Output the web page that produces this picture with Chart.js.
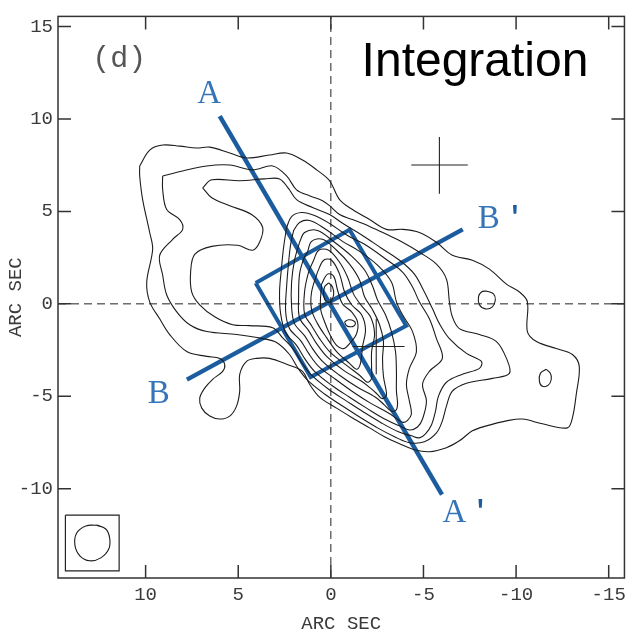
<!DOCTYPE html>
<html>
<head>
<meta charset="utf-8">
<script src="https://cdn.jsdelivr.net/npm/chart.js@4.4.1/dist/chart.umd.min.js"></script>
<style>
  html, body { margin: 0; padding: 0; background: #fff; }
  #wrap { width: 632px; height: 638px; }
</style>
</head>
<body>
<div id="wrap"><canvas id="map"></canvas></div>
<script>
// axis ranges and ticks, arc seconds (RA runs right to left)
const xRange = [-15.85, 14.73];
const yRange = [-14.83, 15.55];
const xTicks = [10, 5, 0, -5, -10, -15];
const yTicks = [15, 10, 5, 0, -5, -10];

// integrated intensity contours, outermost level first, [x, y] round each loop
const contour1 = [[10.32,7.46],[9.78,8.32],[9.08,8.59],[8.16,8.53],[7.24,8.43],[6.54,8.48],[5.46,8.16],[4.55,7.89],[3.31,8.05],[2.39,8.16],[1.53,7.78],[0.77,7.25],[0.07,6.66],[-0.47,5.64],[-1.17,5.10],[-2.09,4.56],[-3.00,4.03],[-3.87,4.03],[-4.78,3.86],[-5.70,3.33],[-6.56,2.63],[-7.64,2.36],[-8.56,1.88],[-9.48,1.07],[-10.18,0.64],[-10.61,0.11],[-10.61,-1.50],[-11.10,-2.04],[-12.17,-2.42],[-13.04,-2.74],[-13.41,-3.38],[-13.25,-4.88],[-13.04,-6.17],[-12.77,-6.71],[-11.42,-6.49],[-10.34,-6.23],[-9.48,-6.33],[-8.40,-6.60],[-7.64,-6.87],[-6.94,-7.41],[-6.24,-7.78],[-5.32,-8.00],[-4.51,-7.89],[-3.71,-7.57],[-2.90,-7.19],[-2.09,-6.71],[-1.17,-6.17],[-0.31,-5.64],[0.61,-5.05],[1.15,-4.35],[1.53,-3.65],[2.39,-3.27],[3.31,-2.95],[4.01,-2.95],[4.55,-3.11],[4.92,-3.81],[4.92,-4.72],[5.09,-5.53],[5.46,-6.07],[6.00,-6.23],[6.54,-6.07],[6.97,-5.64],[7.08,-5.10],[6.81,-4.56],[6.38,-4.08],[5.84,-3.65],[5.73,-3.27],[6.00,-2.95],[6.70,-2.84],[7.78,-2.58],[8.70,-1.66],[9.24,-0.81],[9.78,0.11],[9.94,1.18],[9.62,2.95],[9.78,3.86],[10.16,5.64],[10.32,6.92]];
const contour2 = [[9.08,6.92],[8.00,7.19],[6.70,7.46],[5.46,7.51],[4.22,7.25],[3.14,7.46],[2.39,6.92],[1.85,6.17],[1.15,5.85],[0.45,5.58],[0.07,5.31],[-0.47,4.83],[-1.17,4.56],[-2.09,4.19],[-3.00,3.76],[-3.87,3.33],[-4.78,2.79],[-5.70,2.15],[-6.24,1.34],[-6.40,0.11],[-6.56,-0.70],[-6.94,-1.34],[-8.02,-1.66],[-8.94,-2.04],[-9.48,-2.95],[-9.64,-3.76],[-8.72,-4.03],[-7.32,-4.29],[-6.56,-4.72],[-6.24,-5.53],[-6.02,-6.33],[-5.70,-6.98],[-5.05,-7.46],[-4.24,-7.51],[-3.44,-7.19],[-2.52,-6.71],[-1.55,-6.12],[-0.63,-5.53],[0.34,-4.88],[1.26,-4.13],[1.80,-3.44],[2.23,-2.74],[2.93,-2.09],[3.68,-1.88],[5.09,-1.66],[6.70,-1.50],[7.62,-1.13],[8.32,-0.43],[8.86,0.48],[9.08,1.56],[9.24,2.63],[8.54,3.49],[8.00,4.03],[8.16,4.56],[8.86,5.10],[9.08,6.17]];
const contour3 = [[6.92,6.28],[6.43,6.71],[4.92,6.66],[3.58,6.76],[2.77,6.76],[2.28,6.23],[1.85,5.64],[0.99,5.21],[0.07,4.83],[-0.74,4.29],[-1.71,3.70],[-2.73,3.01],[-3.71,2.36],[-4.51,1.61],[-5.05,0.64],[-5.49,-0.27],[-5.86,-1.07],[-6.40,-1.88],[-7.32,-2.68],[-8.13,-3.11],[-8.02,-3.49],[-7.10,-3.81],[-6.24,-4.24],[-5.81,-4.99],[-5.65,-5.80],[-5.43,-6.55],[-5.11,-7.03],[-4.78,-7.25],[-4.35,-7.14],[-3.65,-6.92],[-2.73,-6.44],[-1.76,-5.85],[-0.85,-5.26],[0.12,-4.62],[1.04,-3.86],[1.58,-3.17],[2.01,-2.47],[2.61,-1.83],[3.14,-1.29],[4.39,-1.18],[5.30,-1.13],[6.27,-0.70],[7.08,-0.05],[7.51,0.64],[7.57,1.72],[7.35,2.68],[6.43,3.11],[5.03,3.17],[4.22,2.90],[3.85,3.33],[3.68,4.13],[4.28,4.83],[5.46,5.31],[6.43,5.74]];
const contour4 = [[2.39,4.13],[2.12,4.72],[1.58,4.94],[0.88,4.78],[0.07,4.35],[-0.90,3.70],[-1.82,3.22],[-2.90,2.47],[-3.87,1.72],[-4.41,0.91],[-4.78,0.11],[-5.32,-0.81],[-5.70,-1.88],[-6.02,-2.95],[-5.32,-3.65],[-4.95,-4.35],[-5.16,-5.26],[-4.95,-6.23],[-4.68,-6.66],[-4.24,-6.82],[-3.71,-6.60],[-2.90,-6.23],[-1.93,-5.64],[-1.01,-5.05],[-0.04,-4.40],[0.88,-3.65],[1.42,-2.95],[1.85,-2.25],[2.44,-1.56],[2.71,-0.54],[2.77,0.64],[2.66,1.99],[2.55,3.06]];
const contour5 = [[2.01,3.97],[1.69,4.40],[1.15,4.51],[0.34,4.08],[-0.63,3.38],[-1.55,2.84],[-2.52,2.09],[-3.27,1.18],[-3.54,0.11],[-3.87,-0.59],[-4.41,-1.50],[-4.62,-2.58],[-4.24,-3.49],[-4.08,-4.35],[-4.24,-5.26],[-4.35,-5.96],[-4.14,-6.30],[-3.87,-6.40],[-3.11,-5.90],[-2.14,-5.37],[-1.22,-4.78],[-0.25,-4.08],[0.66,-3.38],[1.20,-2.68],[1.63,-1.99],[2.23,-1.34],[2.44,-0.43],[2.39,0.91],[2.28,2.25],[2.17,3.22]];
const contour6 = [[1.69,3.33],[1.42,3.86],[0.72,3.97],[-0.20,3.33],[-1.12,2.58],[-1.82,1.83],[-2.25,0.97],[-2.52,0.21],[-2.95,-0.59],[-3.27,-1.50],[-3.49,-2.58],[-3.54,-3.65],[-3.54,-4.72],[-3.60,-5.40],[-3.52,-5.75],[-3.25,-5.80],[-2.90,-5.48],[-2.41,-5.05],[-1.44,-4.51],[-0.47,-3.86],[0.45,-3.11],[0.99,-2.42],[1.42,-1.72],[1.96,-1.07],[2.12,-0.16],[2.12,1.18],[1.96,2.36]];
const contour7 = [[1.26,2.79],[1.04,3.38],[0.45,3.49],[-0.31,2.90],[-1.01,2.15],[-1.55,1.29],[-1.82,0.38],[-2.25,-0.32],[-2.63,-1.13],[-2.84,-2.04],[-2.79,-2.95],[-2.84,-3.92],[-3.00,-4.78],[-2.98,-5.00],[-2.75,-5.12],[-2.50,-4.88],[-2.14,-4.56],[-1.66,-4.19],[-0.69,-3.60],[0.23,-2.84],[0.77,-2.15],[1.20,-1.45],[1.69,-0.75],[1.74,0.38],[1.69,1.61],[1.47,2.42]];
const contour8 = [[0.93,2.36],[0.66,2.90],[0.12,2.90],[-0.47,2.25],[-0.90,1.45],[-1.22,0.54],[-1.66,-0.11],[-2.14,-0.70],[-2.36,-1.61],[-2.20,-2.58],[-2.20,-3.49],[-2.20,-4.03],[-1.98,-4.24],[-1.55,-3.86],[-0.85,-3.33],[0.07,-2.58],[0.61,-1.88],[1.04,-1.18],[1.42,-0.54],[1.42,0.64],[1.20,1.72]];
const contour9 = [[0.72,1.72],[0.39,2.36],[-0.04,2.36],[-0.47,1.61],[-0.74,0.64],[-1.12,-0.05],[-1.66,-0.59],[-1.87,-1.40],[-1.71,-2.31],[-1.60,-3.22],[-1.39,-3.54],[-1.01,-3.22],[-0.31,-2.58],[0.23,-1.83],[0.72,-1.07],[1.04,-0.32],[1.04,0.64]];
const contour10 = [[0.50,1.07],[0.18,1.61],[-0.15,1.50],[-0.36,0.75],[-0.63,0.00],[-1.12,-0.43],[-1.44,-0.97],[-1.39,-1.61],[-1.06,-2.09],[-0.69,-2.42],[-0.31,-2.25],[0.02,-1.72],[0.34,-0.97],[0.56,-0.21]];
// small closed peaks and isolated spots
const peakNorth = [[0.12,1.13],[-0.09,0.91],[-0.15,0.48],[0.02,0.11],[0.23,0.11],[0.39,0.43],[0.34,0.91]];
const peakSouth = [[-0.74,-0.97],[-0.95,-0.86],[-1.22,-0.91],[-1.33,-1.07],[-1.17,-1.23],[-0.85,-1.18]];
const spotEast = [[-8.40,0.70],[-8.78,0.54],[-8.88,0.21],[-8.72,-0.16],[-8.34,-0.27],[-8.02,-0.05],[-7.97,0.38],[-8.13,0.64]];
const spotFar = [[-11.63,-3.54],[-11.85,-3.76],[-11.90,-4.08],[-11.74,-4.40],[-11.42,-4.46],[-11.26,-4.19],[-11.31,-3.76]];

// beam in the corner
const beamBox = [[14.33,-11.43],[11.43,-11.43],[11.43,-14.44],[14.33,-14.44]];
const beamShape = [[12.64,-11.97],[12.15,-12.18],[11.94,-12.67],[11.99,-13.26],[12.42,-13.74],[13.02,-13.90],[13.55,-13.63],[13.82,-13.04],[13.72,-12.40],[13.23,-12.02]];

// position crosses
const crossNorthH = [[-4.34,7.51],[-7.39,7.51]];
const crossNorthV = [[-5.86,9.02],[-5.86,5.96]];
const crossSouthH = [[-1.17,-2.31],[-3.98,-2.31]];
const crossSouthV = [[-2.45,-0.81],[-2.45,-3.81]];

// cut lines A-A', B-B' and the integration box
const cutA = [[6.0,10.15],[-6.0,-10.32]];
const cutB = [[7.77,-4.1],[-7.12,4.03]];
const cutBox = [[4.06,1.13],[-1.01,4.01],[-4.07,-1.18],[1.09,-3.96]];

// cut labels
const tagText = ['A', "A'", 'B', "B'"];
const tagX = [6.57, -6.67, 9.29, -8.53];
const tagY = [11.32, -11.35, -4.91, 4.56];

const panelTag = '(d)';
const panelTagPos = [11.42, 13.26];
const mapTitle = 'Integration';
const mapTitlePos = [-1.66, 12.35];

const toPoints = (pairs, close) => {
  const pts = pairs.map(([x, y]) => ({ x, y }));
  if (close) pts.push({ ...pts[0] });
  return pts;
};

const contourLevels = [contour1, contour2, contour3, contour4, contour5, contour6, contour7,
  contour8, contour9, contour10, peakNorth, peakSouth, spotEast, spotFar];

const datasets = [];
contourLevels.forEach(pairs => {
  datasets.push({ data: toPoints(pairs, true), borderColor: '#1c1c1c', borderWidth: 1.1, tension: 0.35 });
});
datasets.push({ data: toPoints(beamShape, true), borderColor: '#1c1c1c', borderWidth: 1.1, tension: 0.45 });
datasets.push({ data: toPoints(beamBox, true), borderColor: '#222', borderWidth: 1.2, tension: 0 });
[crossNorthH, crossNorthV, crossSouthH, crossSouthV].forEach(pairs => {
  datasets.push({ data: toPoints(pairs, false), borderColor: '#222', borderWidth: 1.1, tension: 0 });
});
// dashed reference axes through the centre
datasets.push({ data: [{ x: 0, y: yRange[0] }, { x: 0, y: yRange[1] }], borderColor: '#222', borderWidth: 1, borderDash: [8, 5], tension: 0 });
datasets.push({ data: [{ x: xRange[1], y: 0 }, { x: xRange[0], y: 0 }], borderColor: '#222', borderWidth: 1, borderDash: [8, 5], tension: 0 });
datasets.push({ data: toPoints(cutA, false), borderColor: '#1b5c9f', borderWidth: 4.5, tension: 0 });
datasets.push({ data: toPoints(cutB, false), borderColor: '#1b5c9f', borderWidth: 4.5, tension: 0 });
datasets.push({ data: toPoints(cutBox, true), borderColor: '#1b5c9f', borderWidth: 4, tension: 0, borderJoinStyle: 'miter' });

const tickLen = 13;
const tickFont = { family: 'Liberation Mono', size: 19 };

// frame, inward ticks and the text drawn on the map
const mapDecor = {
  id: 'mapDecor',
  afterDatasetsDraw(chart) {
    const { ctx, chartArea: a, scales: { x, y } } = chart;
    ctx.save();
    ctx.strokeStyle = '#333';
    ctx.lineWidth = 1.5;
    ctx.strokeRect(a.left, a.top, a.right - a.left, a.bottom - a.top);
    ctx.beginPath();
    xTicks.forEach(v => {
      const px = x.getPixelForValue(v);
      ctx.moveTo(px, a.bottom); ctx.lineTo(px, a.bottom - tickLen);
      ctx.moveTo(px, a.top); ctx.lineTo(px, a.top + tickLen);
    });
    yTicks.forEach(v => {
      const py = y.getPixelForValue(v);
      ctx.moveTo(a.left, py); ctx.lineTo(a.left + tickLen, py);
      ctx.moveTo(a.right, py); ctx.lineTo(a.right - tickLen, py);
    });
    ctx.stroke();

    // cut labels with their primes
    ctx.textAlign = 'center';
    ctx.textBaseline = 'middle';
    tagText.forEach((t, i) => {
      const px = x.getPixelForValue(tagX[i]);
      const py = y.getPixelForValue(tagY[i]);
      ctx.fillStyle = '#3574b8';
      ctx.font = '33px "Liberation Serif"';
      ctx.fillText(t[0], px, py);
      if (t.length > 1) {
        ctx.fillStyle = '#1b5c9f';
        ctx.font = 'bold 28px "Liberation Mono"';
        ctx.fillText("'", px + 26, py - 2);
      }
    });

    ctx.fillStyle = '#555';
    ctx.font = '30px "Liberation Mono"';
    ctx.fillText(panelTag, x.getPixelForValue(panelTagPos[0]), y.getPixelForValue(panelTagPos[1]));

    ctx.fillStyle = '#000';
    ctx.font = '48px "Liberation Sans"';
    ctx.textAlign = 'left';
    ctx.textBaseline = 'alphabetic';
    ctx.fillText(mapTitle, x.getPixelForValue(mapTitlePos[0]), y.getPixelForValue(mapTitlePos[1]));
    ctx.restore();
  }
};

new Chart(document.getElementById('map'), {
  type: 'scatter',
  data: { datasets },
  options: {
    responsive: true,
    maintainAspectRatio: false,
    animation: false,
    showLine: true,
    elements: { point: { radius: 0, hoverRadius: 0 } },
    layout: { padding: { top: 12, right: 7, left: 0, bottom: 0 } },
    plugins: { legend: { display: false }, tooltip: { enabled: false } },
    scales: {
      x: {
        type: 'linear',
        reverse: true,
        min: xRange[0],
        max: xRange[1],
        afterBuildTicks: s => { s.ticks = xTicks.map(v => ({ value: v })); },
        afterFit: s => { s.height = 60; },
        grid: { display: false, drawTicks: false },
        border: { display: false },
        ticks: { font: tickFont, color: '#3a3a3a', padding: 6, maxRotation: 0, autoSkip: false, callback: v => String(v) },
        title: { display: true, text: 'ARC SEC', font: { family: 'Liberation Mono', size: 19 }, color: '#3a3a3a', padding: { top: 0, bottom: 3 } }
      },
      y: {
        type: 'linear',
        min: yRange[0],
        max: yRange[1],
        afterBuildTicks: s => { s.ticks = yTicks.map(v => ({ value: v })); },
        afterFit: s => { s.width = 58; },
        grid: { display: false, drawTicks: false },
        border: { display: false },
        ticks: { font: tickFont, color: '#3a3a3a', padding: 5, autoSkip: false, callback: v => String(v) },
        title: { display: true, text: 'ARC SEC', font: { family: 'Liberation Mono', size: 19 }, color: '#3a3a3a', padding: { top: 5, bottom: 0 } }
      }
    }
  },
  plugins: [mapDecor]
});
</script>
</body>
</html>
